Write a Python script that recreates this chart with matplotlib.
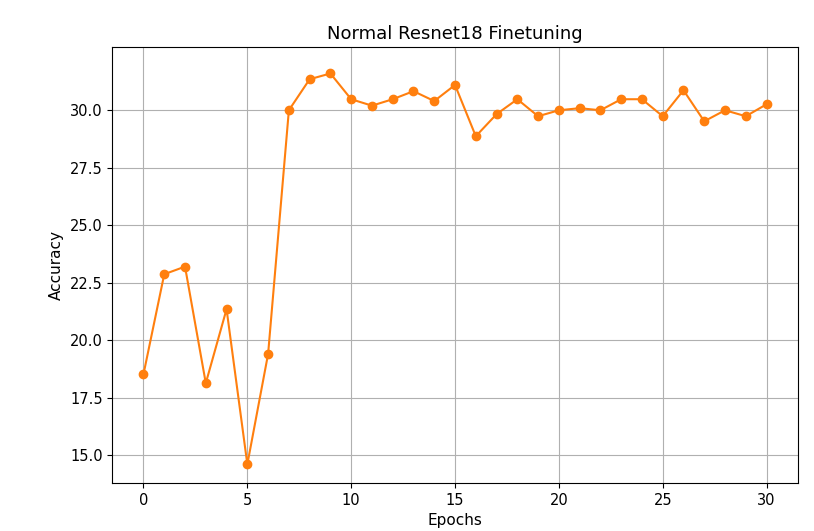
import matplotlib
matplotlib.use("Agg")
import matplotlib.pyplot as plt

epochs = list(range(31))
accuracy = [18.52, 22.87, 23.2, 18.13, 21.35, 14.6, 19.4, 30.0, 31.35, 31.6,
            30.48, 30.2, 30.48, 30.83, 30.4, 31.1, 28.87, 29.83, 30.48, 29.74,
            30.0, 30.09, 30.0, 30.48, 30.48, 29.74, 30.87, 29.52, 30.0, 29.74,
            30.26]

fig = plt.figure(figsize=(8.14, 5.31), dpi=100)
ax = fig.add_axes([0.138, 0.09, 0.842, 0.821])
ax.plot(epochs, accuracy, marker='o', color='tab:orange')
ax.set_title("Normal Resnet18 Finetuning", fontsize=13)
ax.set_xlabel("Epochs", fontsize=11)
ax.set_ylabel("Accuracy", fontsize=11)
ax.set_yticks([15.0, 17.5, 20.0, 22.5, 25.0, 27.5, 30.0])
ax.set_ylim(13.78, 32.74)
ax.set_xticks([0, 5, 10, 15, 20, 25, 30])
ax.tick_params(labelsize=10.5)
ax.grid(True)
fig.savefig("out.png", dpi=100)
